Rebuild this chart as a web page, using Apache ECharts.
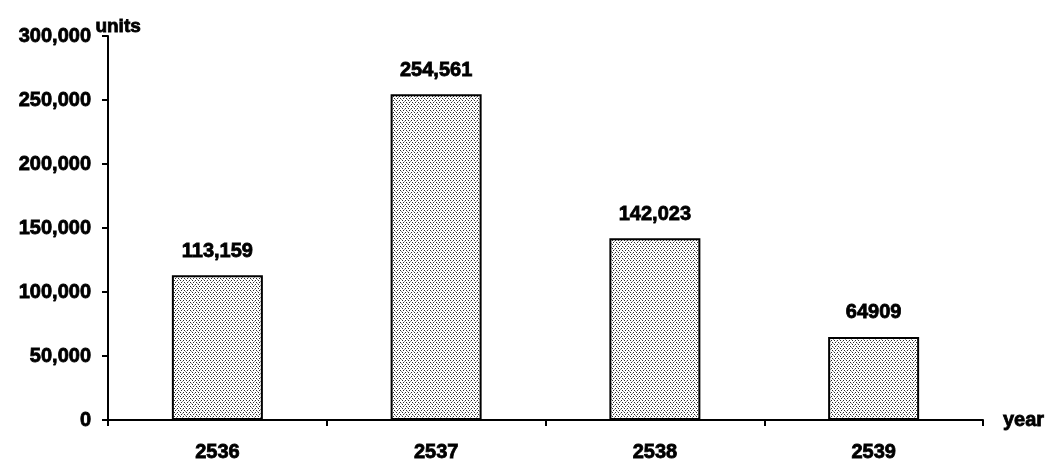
<!DOCTYPE html>
<html>
<head>
<meta charset="utf-8">
<script src="https://cdn.jsdelivr.net/npm/echarts@6/dist/echarts.min.js"></script>
<style>
  html, body { margin: 0; padding: 0; background: #fff; }
  #chart { width: 1051px; height: 468px; }
</style>
</head>
<body>
<div id="chart"></div>
<script>
const years = ['2536', '2537', '2538', '2539'];
const units = [113159, 254561, 142023, 64909];
const valueLabels = ['113,159', '254,561', '142,023', '64909'];

// Stippled fill for the bars: a small tile of dark dots on white
function stipple() {
  const c = document.createElement('canvas');
  c.width = 6; c.height = 4;
  const g = c.getContext('2d');
  g.fillStyle = '#ffffff';
  g.fillRect(0, 0, 6, 4);
  g.fillStyle = '#2a2a2a';
  g.fillRect(0, 0, 1, 1);
  g.fillRect(3, 0, 1, 1);
  g.fillRect(1, 2, 1, 1);
  g.fillRect(4, 2, 1, 1);
  g.fillStyle = '#999999';
  g.fillRect(2, 1, 1, 1);
  g.fillRect(5, 3, 1, 1);
  return c;
}

const font = '"Liberation Sans", Arial, sans-serif';
// heavy bold text shared by all labels
const heavy = {
  color: '#000', fontFamily: font, fontWeight: 'bold', fontSize: 20,
  textBorderColor: '#000', textBorderWidth: 0.8
};

const chart = echarts.init(document.getElementById('chart'));
chart.setOption({
  animation: false,
  grid: { left: 108, right: 68, top: 36, bottom: 48 },
  // unit caption sitting just above the top of the value axis
  graphic: [{
    type: 'text',
    left: 95,
    top: 17,
    style: {
      text: 'units',
      fill: '#000',
      font: 'bold 19px "Liberation Sans", Arial, sans-serif',
      stroke: '#000',
      lineWidth: 0.8
    }
  }],
  xAxis: {
    type: 'category',
    data: years,
    name: 'year',
    nameLocation: 'end',
    nameGap: 20,
    nameTextStyle: Object.assign({}, heavy, { verticalAlign: 'middle' }),
    axisLine: { lineStyle: { color: '#000', width: 2 } },
    axisTick: { show: true, inside: false, length: 6, lineStyle: { color: '#000', width: 2 } },
    axisLabel: Object.assign({}, heavy, { margin: 22 }),
    splitLine: { show: false }
  },
  yAxis: {
    type: 'value',
    min: 0,
    max: 300000,
    interval: 50000,
    axisLine: { show: true, lineStyle: { color: '#000', width: 2 } },
    axisTick: { show: true, length: 6, lineStyle: { color: '#000', width: 2 } },
    axisLabel: Object.assign({}, heavy, {
      margin: 17,
      formatter: v => v.toLocaleString('en-US')
    }),
    splitLine: { show: false }
  },
  series: [{
    type: 'bar',
    data: units,
    barWidth: 91,
    itemStyle: {
      color: { image: stipple(), repeat: 'repeat' },
      borderColor: '#000',
      borderWidth: 2
    },
    label: Object.assign({}, heavy, {
      show: true,
      position: 'top',
      distance: 14,
      formatter: p => valueLabels[p.dataIndex]
    })
  }]
});
</script>
</body>
</html>
